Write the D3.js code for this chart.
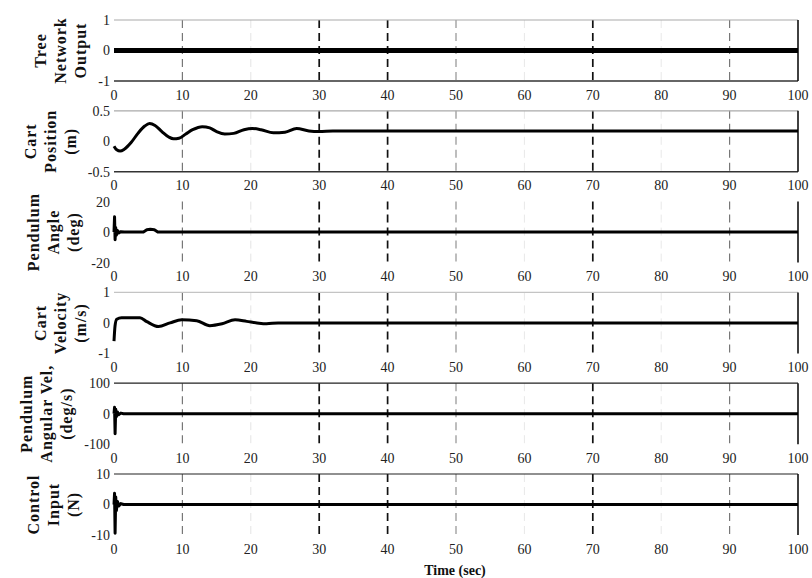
<!DOCTYPE html>
<html>
<head>
<meta charset="utf-8">
<script src="https://cdn.jsdelivr.net/npm/d3@7"></script>
<style>
  body { margin: 0; background: #fff; }
  svg { display: block; font-family: "Liberation Serif", "DejaVu Serif", serif; }
</style>
</head>
<body>
<script>
// Stacked simulation traces, one panel per signal

// time axis ticks
const timeTicks = [0, 10, 20, 30, 40, 50, 60, 70, 80, 90, 100];

// tree network output
const treeTime = [0, 100];
const treeOut = [0, 0];

// cart position (m)
const posTime = [0, 0.4, 0.9, 1.5, 2.5, 3.5, 4.5, 5.2, 6, 7, 8, 8.7, 9.5, 10.5, 11.5, 12.9, 14, 15, 16.2,
  17.5, 19, 20.2, 21.5, 23.3, 25, 26.7, 28.5, 30, 32, 35, 40, 50, 70, 100];
const cartPos = [-0.08, -0.14, -0.16, -0.13, -0.02, 0.13, 0.25, 0.29, 0.26, 0.16, 0.07, 0.04, 0.05, 0.12, 0.19,
  0.24, 0.22, 0.16, 0.12, 0.13, 0.19, 0.21, 0.19, 0.14, 0.15, 0.21, 0.17, 0.16, 0.17, 0.17, 0.17, 0.17, 0.17, 0.17];

// pendulum angle (deg)
const angTime = [0, 0.08, 0.16, 0.25, 0.35, 0.5, 0.7, 1.0, 1.5, 4.3, 4.8, 5.3, 5.9, 6.4, 100];
const pendAngle = [0, 10, -5, 3, -2, 1, -0.5, 0.3, 0, 0, 1.5, 1.8, 1.5, 0, 0];

// cart velocity (m/s)
const velTime = [0, 0.15, 0.4, 1.1, 3.8, 4.8, 6.5, 8.2, 9.9, 12.1, 14, 15.8, 17.7, 19.4, 20.9, 22.3, 24, 27, 100];
const cartVel = [-0.6, -0.1, 0.12, 0.17, 0.17, 0.04, -0.12, 0, 0.1, 0.07, -0.09, -0.03, 0.1, 0.05, 0, -0.03, 0, 0, 0];

// pendulum angular velocity (deg/s)
const rateTime = [0, 0.08, 0.16, 0.25, 0.35, 0.5, 0.7, 1.0, 1.4, 2, 100];
const pendRate = [0, 21, -66, 15, -10, 6, -3, 2, 0, 0, 0];

// control input (N)
const ctrlTime = [0, 0.08, 0.16, 0.25, 0.35, 0.5, 0.7, 1.0, 1.4, 2, 100];
const ctrlInput = [0, 3.7, -9.4, 2.5, -2, 1, -0.5, 0.3, 0, 0, 0];

// panel titles and y ticks
const labels = [
  ['Tree', 'Network', 'Output'],
  ['Cart', 'Position', '(m)'],
  ['Pendulum', 'Angle', '(deg)'],
  ['Cart', 'Velocity', '(m/s)'],
  ['Pendulum', 'Angular Vel,', '(deg/s)'],
  ['Control', 'Input', '(N)']
];
const yTicks = [[-1, 0, 1], [-0.5, 0, 0.5], [-20, 0, 20], [-1, 0, 1], [-100, 0, 100], [-10, 0, 10]];

const series = [
  [treeTime, treeOut], [posTime, cartPos], [angTime, pendAngle],
  [velTime, cartVel], [rateTime, pendRate], [ctrlTime, ctrlInput]
];

const width = 812;
const height = 578;
const margin = ({left: 114, right: 14});
const panelTop = 20, panelStep = 90.8, panelH = 61;

// scan look: which frame lines survived
const topStroke = ['#aaa', '#aaa', 'none', '#c4c4c4', '#222', '#222'];
const bottomStroke = ['#333', '#333', 'none', 'none', 'none', 'none'];
const gridStyle = {10: ['#777', 1.2], 20: ['#e4e4e4', 1], 30: ['#111', 1.7], 40: ['#111', 1.7], 50: ['#888', 1.1],
  60: ['#e8e8e8', 1], 70: ['#111', 1.7], 80: ['#e8e8e8', 1], 90: ['#777', 1.2]};

const xScale = d3.scaleLinear()
  .domain([0, 100])
  .range([margin.left, width - margin.right]);

const svg = d3.select('body')
  .append('svg')
  .attr('width', width)
  .attr('height', height);

series.forEach((s, i) => {
  const top = panelTop + i * panelStep;
  const bottom = top + panelH;
  const ext = yTicks[i];
  const yScale = d3.scaleLinear()
    .domain([ext[0], ext[2]])
    .range([bottom, top]);

  const g = svg.append('g');

  // dashed time grid
  g.selectAll('line.grid')
    .data(timeTicks.filter(t => t > 0 && t < 100))
    .join('line')
    .attr('x1', d => xScale(d)).attr('x2', d => xScale(d))
    .attr('y1', top).attr('y2', bottom)
    .attr('stroke', d => gridStyle[d][0])
    .attr('stroke-width', d => gridStyle[d][1])
    .attr('stroke-dasharray', '8,5');

  // frame pieces
  g.append('line')
    .attr('x1', xScale(0)).attr('x2', xScale(100))
    .attr('y1', top).attr('y2', top)
    .attr('stroke', topStroke[i]).attr('stroke-width', 1.2);
  g.append('line')
    .attr('x1', xScale(0)).attr('x2', xScale(100))
    .attr('y1', bottom).attr('y2', bottom)
    .attr('stroke', bottomStroke[i]).attr('stroke-width', 1.6);
  g.append('line')
    .attr('x1', xScale(100)).attr('x2', xScale(100))
    .attr('y1', top).attr('y2', bottom)
    .attr('stroke', '#111').attr('stroke-width', 1.6);

  // trace
  const pts = s[0].map((t, k) => [t, s[1][k]]);
  const smooth = (i === 1 || i === 3);
  const line = d3.line()
    .x(d => xScale(d[0]))
    .y(d => yScale(d[1]))
    .curve(smooth ? d3.curveMonotoneX : d3.curveLinear);
  g.append('path')
    .datum(pts)
    .attr('d', line)
    .attr('fill', 'none')
    .attr('stroke', '#000')
    .attr('stroke-width', i === 0 ? 5 : 3)
    .attr('stroke-linejoin', 'round');

  // y ticks (text only)
  const yt = g.selectAll('text.ytick')
    .data(ext)
    .join('text')
    .attr('class', 'ytick')
    .attr('x', 110)
    .attr('y', d => yScale(d))
    .attr('dy', '0.35em')
    .attr('text-anchor', 'end')
    .attr('font-size', 14)
    .attr('fill', '#222')
    .text(d => d);

  // x ticks under every panel
  g.selectAll('text.xtick')
    .data(timeTicks)
    .join('text')
    .attr('x', d => xScale(d))
    .attr('y', bottom + 18.5)
    .attr('text-anchor', 'middle')
    .attr('font-size', 14)
    .attr('fill', '#222')
    .text(d => d);

  // rotated multi-line panel title, placed left of the tick labels
  const minX = d3.min(yt.nodes(), n => n.getBBox().x);
  const lastX = minX - 17 + 5;
  const cy = (top + bottom) / 2;
  const lab = g.append('text')
    .attr('transform', `translate(${lastX},${cy}) rotate(-90)`)
    .attr('text-anchor', 'middle')
    .attr('font-size', 16)
    .attr('font-weight', 'bold')
    .attr('letter-spacing', 1)
    .attr('fill', '#111');
  labels[i].forEach((t, k) => {
    lab.append('tspan')
      .attr('x', 0)
      .attr('y', (k - (labels[i].length - 1)) * 20)
      .text(t);
  });
});

// x axis title
svg.append('text')
  .attr('x', 455)
  .attr('y', 575)
  .attr('text-anchor', 'middle')
  .attr('font-size', 14)
  .attr('font-weight', 'bold')
  .attr('fill', '#111')
  .text('Time (sec)');
</script>
</body>
</html>
